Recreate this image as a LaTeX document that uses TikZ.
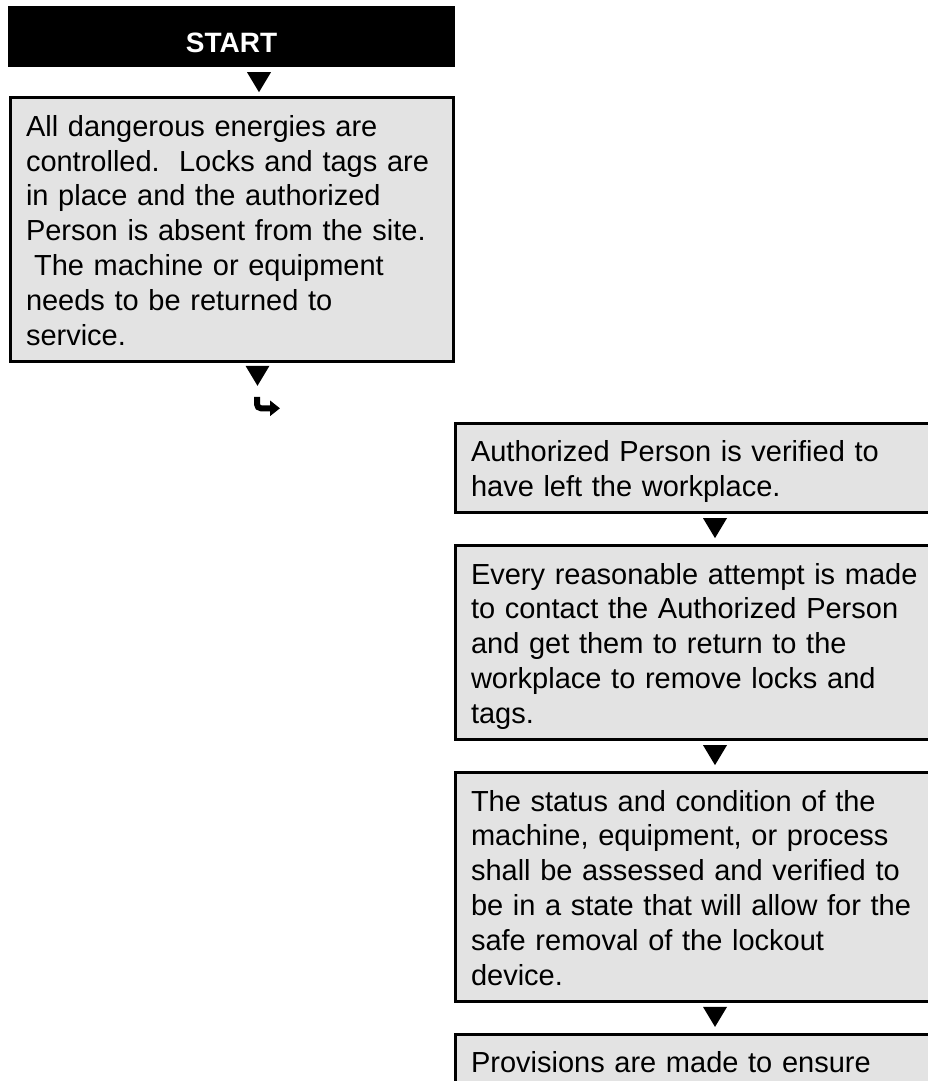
\documentclass[tikz,border=0pt]{standalone}
\usepackage{fontspec}
\setmainfont{Liberation Sans}
\usetikzlibrary{positioning,calc,arrows.meta}
\definecolor{boxgray}{RGB}{227,227,227}
\newcommand{\lnstrut}{\rule[-6.3pt]{0pt}{34.8pt}}
\tikzset{
  pics/downtri/.style={code={\fill (-12pt,0pt) -- (12pt,0pt) -- (0pt,-20pt) -- cycle;}}
}

\begin{document}
\begin{tikzpicture}[x=1pt,y=1pt,node distance=29pt,
    startbar/.style={fill=black,text=white,minimum width=447pt,minimum height=61pt,
      text height=32pt,text depth=0pt,font=\bfseries\fontsize{28}{30}\selectfont},
    flowbox/.style={draw=black,line width=3pt,fill=boxgray,align=left,
      inner xsep=16pt,inner ysep=10pt,font=\fontsize{29}{34.8}\selectfont},
    leftbox/.style={flowbox,text width=411pt},
    rightbox/.style={flowbox,text width=485pt}]
   \useasboundingbox (0,0) rectangle (928,-1081);
   \clip (0,0) rectangle (928,-1081);
   \fill[white] (0,0) rectangle (928,-1081);
   \node[startbar] (start) at (231.5,-36.5) {START};
   \node[leftbox] (absent) [below=of start]
     {\lnstrut All dangerous energies are\\
      controlled.\ \ Locks and tags are\\
      in place and the authorized\\
      Person is absent from the site.\\
      \hspace*{0.278em}The machine or equipment\\
      needs to be returned to\\
      service.\lnstrut};
   \node[rightbox,anchor=north west] (verify) at (453.5,-421.5)
     {\lnstrut Authorized Person is verified to\\
      have left the workplace.\lnstrut};
   \node[rightbox] (contact) [below=30pt of verify]
     {\lnstrut Every reasonable attempt is made\\
      to contact the Authorized Person\\
      and get them to return to the\\
      workplace to remove locks and\\
      tags.\lnstrut};
   \node[rightbox] (assess) [below=30pt of contact]
     {\lnstrut The status and condition of the\\
      machine, equipment, or process\\
      shall be assessed and verified to\\
      be in a state that will allow for the\\
      safe removal of the lockout\\
      device.\lnstrut};
   \node[rightbox,text depth=90pt] (provide) [below=30pt of assess]
     {\lnstrut Provisions are made to ensure};
   \pic at ($(start.south)+(27.5,-5)$) {downtri};
   \pic at ($(absent.south west)+(249,-3)$) {downtri};
   \pic at ($(verify.south west)+(261.5,-4)$) {downtri};
   \pic at ($(contact.south west)+(261.5,-4)$) {downtri};
   \pic at ($(assess.south west)+(261.5,-4)$) {downtri};
   \coordinate (hook) at ($(absent.south west)+(248.5,-34)$);
   \coordinate (hookend) at ($(hook)+(23,-11.5)$);
   \draw[line width=6pt,rounded corners=4pt,-{Triangle[width=15pt,length=10pt]}]
     (hook) |- (hookend);
\end{tikzpicture}
\end{document}
